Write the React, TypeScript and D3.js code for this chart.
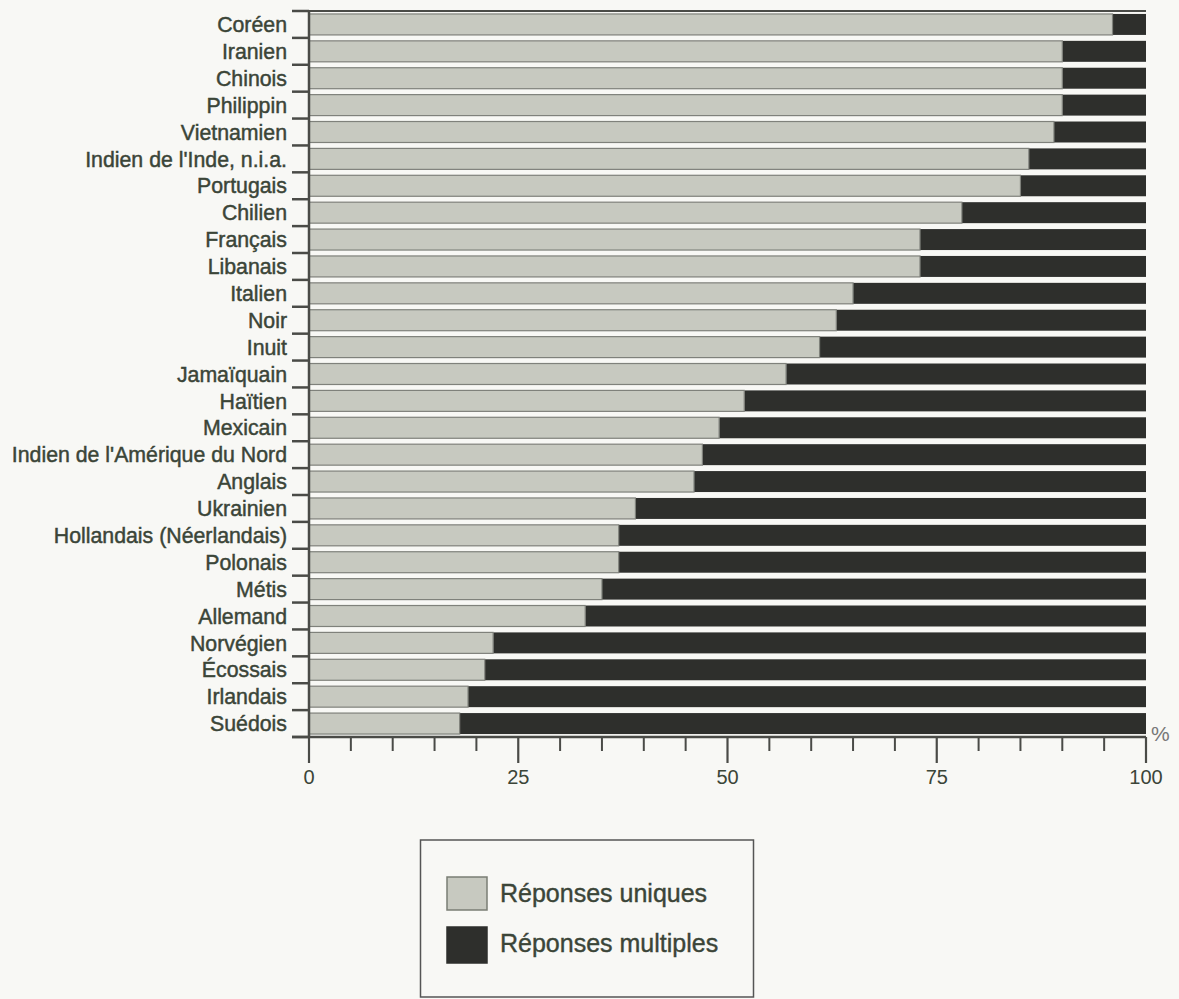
import React from "react";
import * as d3 from "d3";

const categories = [
  "Coréen", "Iranien", "Chinois", "Philippin", "Vietnamien", "Indien de l'Inde, n.i.a.",
  "Portugais", "Chilien", "Français", "Libanais", "Italien", "Noir", "Inuit", "Jamaïquain",
  "Haïtien", "Mexicain", "Indien de l'Amérique du Nord", "Anglais", "Ukrainien",
  "Hollandais (Néerlandais)", "Polonais", "Métis", "Allemand", "Norvégien", "Écossais",
  "Irlandais", "Suédois",
];
const singleResponses = [96, 90, 90, 90, 89, 86, 85, 78, 73, 73, 65, 63, 61, 57, 52, 49, 47, 46, 39, 37, 37, 35, 33, 22, 21, 19, 18];
const majorTicks = [0, 25, 50, 75, 100];
const minorTicks = [5, 10, 15, 20, 30, 35, 40, 45, 55, 60, 65, 70, 80, 85, 90, 95];
const legendLabels = ["Réponses uniques", "Réponses multiples"];

const LIGHT = "#c7c9c0";
const DARK = "#2e2f2c";
const TEXT = "#3b4538";
const AXIS = "#4a4b47";
const FONT = "'Liberation Sans', Arial, sans-serif";

export default function App() {
  const x = d3.scaleLinear().domain([0, 100]).range([309, 1146]);
  const top = 11;
  const bottom = 737;
  const y = d3.scaleBand<string>().domain(categories).range([top, bottom]).paddingInner(0.22).paddingOuter(0.11);
  const step = y.step();
  const boundaries = d3.range(categories.length + 1).map((i) => top + i * step);

  return (
    <svg width={1179} height={999} style={{ position: "absolute", left: 0, top: 0, background: "#f8f8f5" }}>
      {/* bars */}
      {categories.map((c, i) => {
        const v = singleResponses[i];
        const yy = y(c)!;
        const h = y.bandwidth();
        return (
          <g key={c}>
            <rect x={x(v)} y={yy} width={x(100) - x(v)} height={h} fill={DARK} />
            <rect x={x(0)} y={yy} width={x(v) - x(0)} height={h} fill={LIGHT} stroke="#7f817b" strokeWidth={1.2} />
          </g>
        );
      })}
      {/* top frame line */}
      <line x1={292} x2={x(100)} y1={top} y2={top} stroke={AXIS} strokeWidth={2} />
      {/* category ticks */}
      {boundaries.map((b, i) => (
        <line key={i} x1={292} x2={x(0)} y1={b} y2={b} stroke={AXIS} strokeWidth={2.5} />
      ))}
      {/* y axis */}
      <line x1={x(0)} x2={x(0)} y1={top} y2={bottom} stroke={AXIS} strokeWidth={2.5} />
      {/* x axis */}
      <line x1={292} x2={x(100)} y1={bottom} y2={bottom} stroke={AXIS} strokeWidth={2.5} />
      {minorTicks.map((t) => (
        <line key={t} x1={x(t)} x2={x(t)} y1={bottom} y2={bottom + 14} stroke={AXIS} strokeWidth={2} />
      ))}
      {majorTicks.map((t) => (
        <line key={t} x1={x(t)} x2={x(t)} y1={bottom} y2={bottom + 26} stroke={AXIS} strokeWidth={2.2} />
      ))}
      {majorTicks.map((t) => (
        <text key={t} x={x(t)} y={bottom + 47} textAnchor="middle" fontFamily={FONT} fontSize={20} fill={TEXT}>
          {t}
        </text>
      ))}
      <text x={1151} y={741} fontFamily={FONT} fontSize={21} fill="#777">%</text>
      {/* category labels */}
      {categories.map((c) => (
        <text
          key={c}
          x={287}
          y={y(c)! + y.bandwidth() / 2}
          dy="0.36em"
          textAnchor="end"
          fontFamily={FONT}
          fontSize={21.3}
          fill={TEXT}
          stroke={TEXT}
          strokeWidth={0.45}
        >
          {c}
        </text>
      ))}
      {/* legend */}
      <rect x={420.5} y={840} width={333} height={157} fill="none" stroke="#555" strokeWidth={1.5} />
      {legendLabels.map((l, i) => (
        <g key={l}>
          <rect
            x={447}
            y={877 + i * 50}
            width={40}
            height={i === 0 ? 33 : 36}
            fill={i === 0 ? LIGHT : DARK}
            stroke={i === 0 ? "#7a7d74" : DARK}
            strokeWidth={1.5}
          />
          <text x={500} y={893 + i * 50} dy="0.36em" fontFamily={FONT} fontSize={25} fill={TEXT} stroke={TEXT} strokeWidth={0.4}>
            {l}
          </text>
        </g>
      ))}
    </svg>
  );
}
